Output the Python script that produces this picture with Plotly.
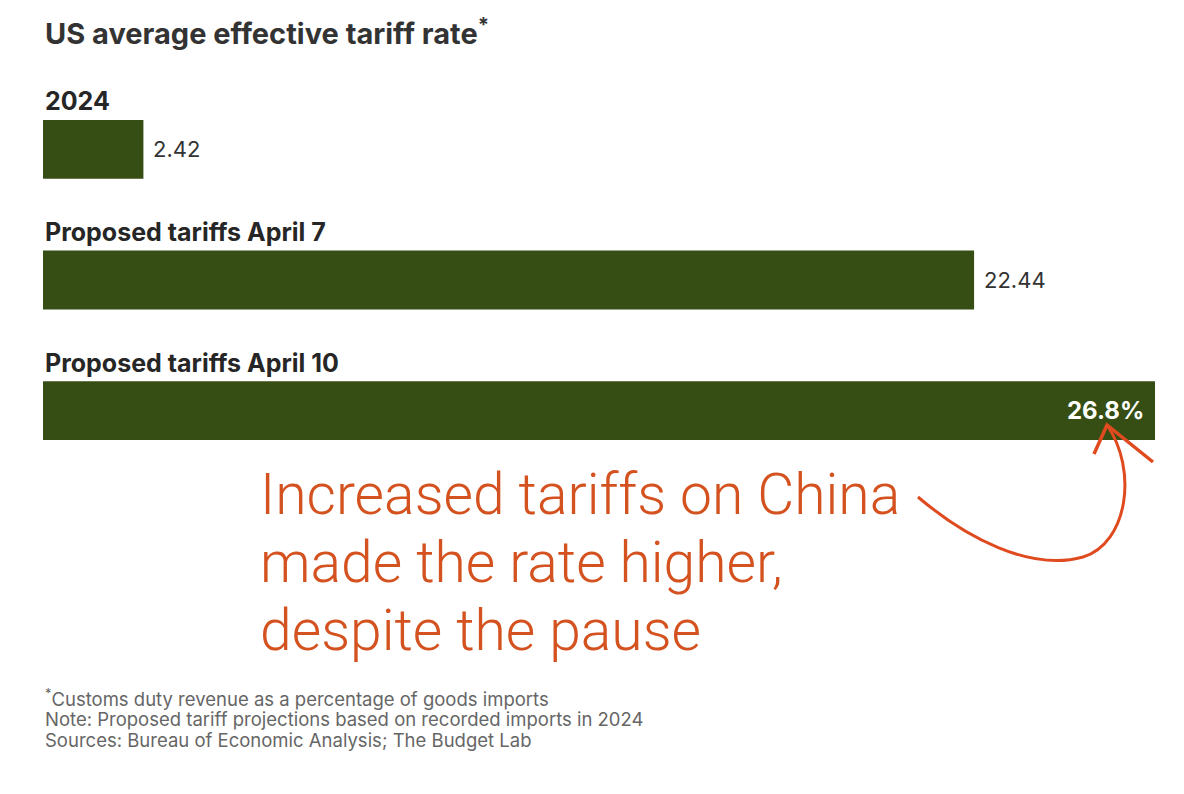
import plotly.graph_objects as go

categories = ["2024", "Proposed tariffs April 7", "Proposed tariffs April 10"]
rates = [2.42, 22.44, 26.8]
rate_labels = ["2.42", "22.44", "26.8%"]

title = "US average effective tariff rate<sup>*</sup>"
note_lines = [
    "<sup>*</sup>Customs duty revenue as a percentage of goods imports",
    "Note: Proposed tariff projections based on recorded imports in 2024",
    "Sources: Bureau of Economic Analysis; The Budget Lab",
]
hand_lines = [
    "Increased tariffs on China",
    "made the rate higher,",
    "despite the pause",
]

# the page puts the figure 8px in from the top-left corner
O = 8
W, H = 1184 - 2 * O, 794 - 2 * O
L, R, T, B = 43 - O, 29 - O, 84 - O, 318 - O
FONT = "Inter"
HAND = "Roboto"
GREEN = "#364e13"
ORANGE = "#d4521f"


# screen pixel -> paper helpers for the decorations
def px(x):
    return (x - O - L) / (W - L - R)


def py(y):
    return (H - B - (y - O)) / (H - T - B)


fig = go.Figure(go.Bar(
    x=rates, y=categories, orientation="h",
    marker=dict(color=GREEN, line_width=0),
    width=0.45, hoverinfo="skip",
))

ann = []
ann.append(dict(x=px(43), y=py(32), xref="paper", yref="paper", text=title,
                showarrow=False, xanchor="left", yanchor="middle",
                font=dict(family=FONT, size=29, color="#333333", weight="bold")))

for i, (c, v, lab) in enumerate(zip(categories, rates, rate_labels)):
    ann.append(dict(x=0, y=i, text=c, showarrow=False, xanchor="left",
                    yanchor="middle", yshift=48,
                    font=dict(family=FONT, size=25, color="#262626", weight="bold")))
    if lab.endswith("%"):
        ann.append(dict(x=v, y=i, text=lab, showarrow=False, xanchor="right",
                        yanchor="middle", xshift=-9,
                        font=dict(family=FONT, size=24, color="white", weight="bold")))
    else:
        ann.append(dict(x=v, y=i, text=lab, showarrow=False, xanchor="left",
                        yanchor="middle", xshift=8,
                        font=dict(family=FONT, size=22, color="#333333")))

for i, line in enumerate(hand_lines):
    ann.append(dict(x=px(258), y=py(494 + i * 68), xref="paper", yref="paper",
                    text=line, showarrow=False, xanchor="left", yanchor="middle",
                    font=dict(family=HAND, size=57, color=ORANGE, weight=300)))

for i, line in enumerate(note_lines):
    ann.append(dict(x=px(43), y=py(697 + i * 21.5), xref="paper", yref="paper",
                    text=line, showarrow=False, xanchor="left", yanchor="middle",
                    font=dict(family=FONT, size=18.5, color="#666666")))


def pt(x, y):
    return f"{px(x):.5f},{py(y):.5f}"


curve = (f"M {pt(918, 497)} C {pt(965, 537)} {pt(1030, 572)} {pt(1083, 557)} "
         f"C {pt(1128, 543)} {pt(1138, 470)} {pt(1107, 425)}")
head = f"M {pt(1094, 454)} L {pt(1107, 425)} L {pt(1153, 462)}"

shapes = [
    dict(type="path", path=curve, xref="paper", yref="paper",
         line=dict(color="#e04a1f", width=3)),
    dict(type="path", path=head, xref="paper", yref="paper",
         line=dict(color="#e04a1f", width=3.5)),
]

fig.update_layout(
    width=W, height=H,
    margin=dict(l=L, r=R, t=T, b=B, pad=0),
    paper_bgcolor="white", plot_bgcolor="white",
    showlegend=False,
    xaxis=dict(range=[0, 26.8], visible=False, fixedrange=True),
    yaxis=dict(type="category", categoryorder="array", categoryarray=categories,
               range=[2.5, -0.5], visible=False, fixedrange=True),
    annotations=ann,
    shapes=shapes,
)

fig.write_html("out.html", config={"displayModeBar": False})
